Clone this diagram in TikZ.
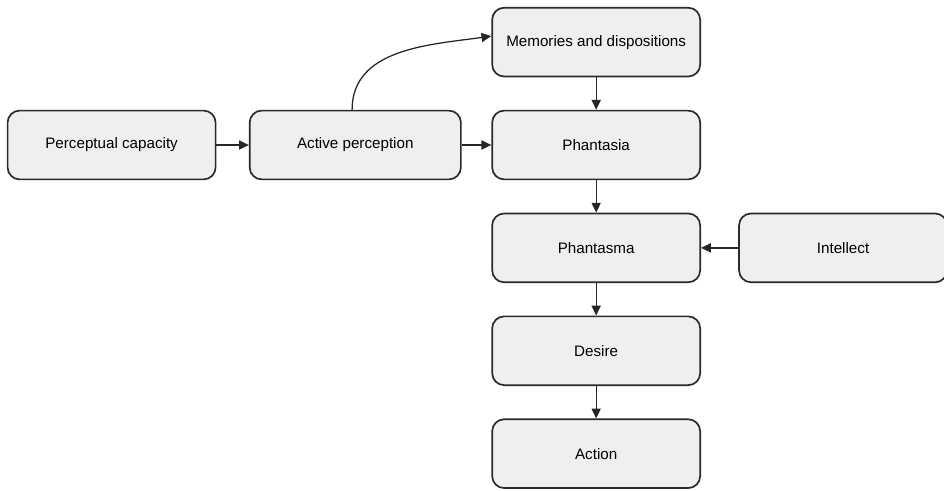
\documentclass[tikz,border=0pt]{standalone}
\usepackage{fontspec}
\setmainfont{Liberation Sans}
\usepackage{xcolor}
\usetikzlibrary{arrows.meta, positioning}

\definecolor{boxfill}{HTML}{EFEFF0}
\definecolor{boxline}{HTML}{2A2A2A}

\begin{document}
\begin{tikzpicture}[
  block/.style={rectangle, draw=boxline, fill=boxfill, line width=1.2pt, rounded corners=0.3cm, minimum width=5.2cm, minimum height=1.72cm, align=center, font=\fontsize{10.8}{13}\selectfont, text=black},
  link/.style={->, line width=0.9pt, draw=black!85},
  >={Triangle[length=7pt, width=6.5pt]}
]
\useasboundingbox (0,0) rectangle (23.6,-12.275);
\node[block] (perc) at (2.79,-3.625) {Perceptual capacity};
\node[block, right=0.81cm of perc, minimum width=5.28cm] (active) {Active perception};
\node[block, right=0.74cm of active] (phantasia) {Phantasia};
\node[block, above=0.81cm of phantasia] (memory) {Memories and dispositions};
\node[block, below=0.81cm of phantasia] (phantasma) {Phantasma};
\node[block, right=0.93cm of phantasma, minimum width=5.2cm] (intellect) {Intellect};
\node[block, below=0.81cm of phantasma] (desire) {Desire};
\node[block, below=0.81cm of desire] (action) {Action};

\draw[link] (perc) -- (active);
\draw[link] (active) -- (phantasia);
\draw[link] ([xshift=-0.08cm]active.north) to[out=90, in=188] ([yshift=0.15cm]memory.west);
\draw[link] (memory) -- (phantasia);
\draw[link] (phantasia) -- (phantasma);
\draw[link] (intellect) -- (phantasma);
\draw[link] (phantasma) -- (desire);
\draw[link] (desire) -- (action);
\end{tikzpicture}
\end{document}
